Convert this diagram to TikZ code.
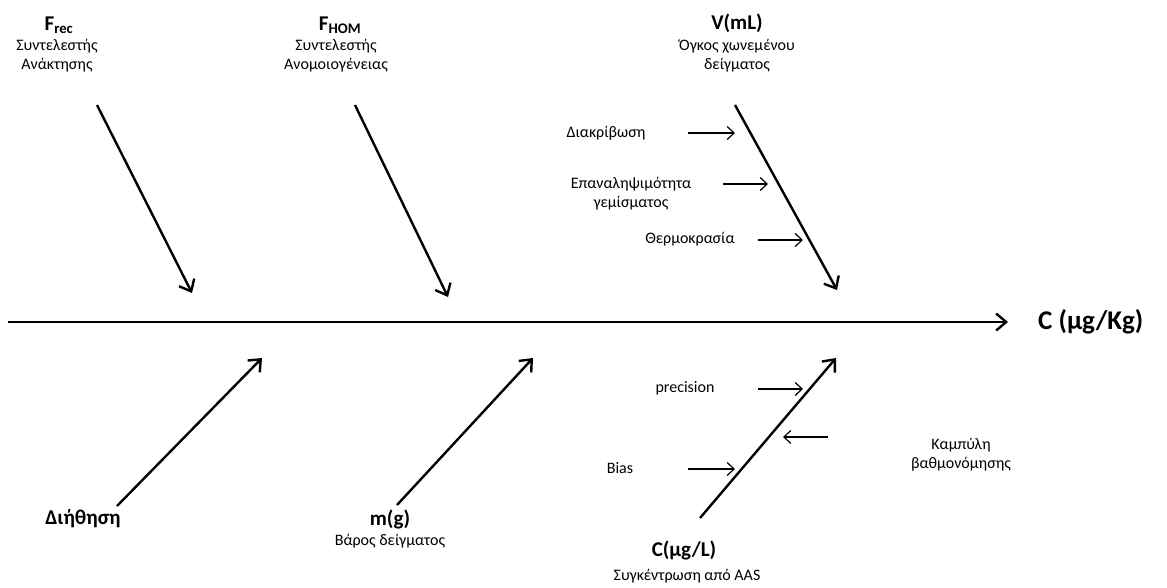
\documentclass[tikz,border=0pt]{standalone}
\usepackage{fontspec}
\setmainfont{Carlito}
\usetikzlibrary{arrows.meta}
\tikzset{
  mainarrow/.style={line width=2.4pt,-{Straight Barb[length=10pt,width=17pt,line width=2.4pt]}},
  subarrow/.style={line width=1.2pt,-{Straight Barb[length=7pt,width=13pt,line width=1.2pt]}},
  title/.style={font=\fontsize{21}{23}\selectfont\bfseries,inner sep=0pt},
  body/.style={font=\fontsize{16}{19}\selectfont,inner sep=0pt,align=center},
}
\begin{document}
\begin{tikzpicture}[x=1pt,y=-1pt]
\useasboundingbox (0,0) rectangle (1167,587);
% main axis
\coordinate (axs) at (8,322);
\coordinate (axe) at (1008,322);
\draw[mainarrow] (axs) -- (axe);
\node[title,font=\fontsize{27}{29}\selectfont\bfseries,anchor=west] (res) at (1038,322) {C (µg/Kg)};

% F_rec
\node[title] (frec) at (59,25) {F\textsubscript{rec}};
\node[body] (frect) at (57,56) {Συντελεστής\\Ανάκτησης};
\coordinate (frec1) at (97,105);
\coordinate (frec2) at (192,293);
\draw[mainarrow] (frec1) -- (frec2);

% F_HOM
\node[title] (fhom) at (340,25) {F\textsubscript{HOM}};
\node[body] (fhomt) at (336,56) {Συντελεστής\\Ανομοιογένειας};
\coordinate (fhom1) at (355,105);
\coordinate (fhom2) at (448,297);
\draw[mainarrow] (fhom1) -- (fhom2);

% V(mL)
\node[title] (vml) at (737,23) {V(mL)};
\node[body] (vmlt) at (737,56) {Όγκος χωνεμένου\\δείγματος};
\coordinate (v1) at (735,105);
\coordinate (v2) at (837,290);
\draw[mainarrow] (v1) -- (v2);

\node[body] (diak) at (606,133) {Διακρίβωση};
\coordinate (diak1) at (688,133);
\coordinate (diak2) at (735,133);
\draw[subarrow] (diak1) -- (diak2);

\node[body] (epan) at (631,194) {Επαναληψιμότητα\\γεμίσματος};
\coordinate (epan1) at (723,184);
\coordinate (epan2) at (768,184);
\draw[subarrow] (epan1) -- (epan2);

\node[body] (therm) at (690,239) {Θερμοκρασία};
\coordinate (therm1) at (758,240);
\coordinate (therm2) at (803,240);
\draw[subarrow] (therm1) -- (therm2);

% bottom: Diithisi
\node[title] (diith) at (83,519) {Διήθηση};
\coordinate (d1) at (117,506);
\coordinate (d2) at (262,358);
\draw[mainarrow] (d1) -- (d2);

% m(g)
\node[title] (mg) at (390,519) {m(g)};
\node[body] (mgt) at (390,541) {Βάρος δείγματος};
\coordinate (m1) at (397,505);
\coordinate (m2) at (533,358);
\draw[mainarrow] (m1) -- (m2);

% C(ug/L)
\node[title] (cl) at (684,550) {C(µg/L)};
\node[body] (clt) at (687,576) {Συγκέντρωση από AAS};
\coordinate (c1) at (700,518);
\coordinate (c2) at (836,358);
\draw[mainarrow] (c1) -- (c2);

\node[body] (prec) at (685,388) {precision};
\coordinate (prec1) at (758,389);
\coordinate (prec2) at (803,389);
\draw[subarrow] (prec1) -- (prec2);

\node[body] (bias) at (620,468) {Bias};
\coordinate (bias1) at (688,469);
\coordinate (bias2) at (735,469);
\draw[subarrow] (bias1) -- (bias2);

\node[body] (kamp) at (961,455) {Καμπύλη\\βαθμονόμησης};
\coordinate (kamp1) at (828,437);
\coordinate (kamp2) at (783,437);
\draw[subarrow] (kamp1) -- (kamp2);
\end{tikzpicture}
\end{document}
